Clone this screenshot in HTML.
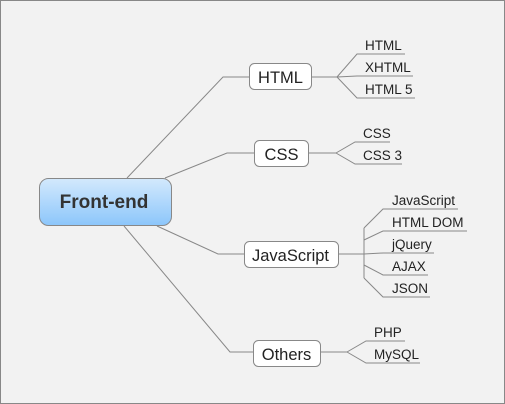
<!DOCTYPE html>
<html><head><style>
body{margin:0;width:505px;height:404px;overflow:hidden;background:#f2f2f2}
svg{display:block}
text{font-family:"Liberation Sans",sans-serif;fill:#222}
</style></head><body>
<svg width="505" height="404" viewBox="0 0 505 404">
<defs><linearGradient id="g" x1="0" y1="0" x2="0" y2="1"><stop offset="0" stop-color="#d3e9fc"/><stop offset="1" stop-color="#8cc6fb"/></linearGradient></defs>
<rect x="0.5" y="0.5" width="504" height="403" fill="#f2f2f2" stroke="#888"/>
<g fill="none" stroke="#888" stroke-width="1">
<polyline points="127,178 223,77 249,77"/>
<polyline points="165,178 227,153 254,153"/>
<polyline points="157,226 218,254 244,254"/>
<polyline points="124,226 230,352 253,352"/>
<line x1="312" y1="77" x2="337" y2="77"/>
<polyline points="337,77 357,54 405,54"/>
<polyline points="337,77 357,76 413,76"/>
<polyline points="337,77 357,98 415,98"/>
<line x1="308" y1="153" x2="336" y2="153"/>
<polyline points="336,153 355,142 390,142"/>
<polyline points="336,153 355,164 402,164"/>
<line x1="338" y1="254" x2="364" y2="254"/>
<line x1="364" y1="228" x2="364" y2="278"/>
<polyline points="364,228 383,209 458,209"/>
<polyline points="364,240 383,231 467,231"/>
<polyline points="364,254 383,253 434,253"/>
<polyline points="364,265 383,275 428,275"/>
<polyline points="364,278 383,297 430,297"/>
<line x1="320" y1="352" x2="347" y2="352"/>
<polyline points="347,352 366,341 405,341"/>
<polyline points="347,352 366,363 420,363"/>
</g>
<rect x="39.5" y="178.5" width="132" height="47" rx="9" fill="url(#g)" stroke="#888"/>
<text x="104" y="208" font-size="19" font-weight="bold" text-anchor="middle" style="fill:#333">Front-end</text>
<g fill="#fff" stroke="#888">
<rect x="249.5" y="63.5" width="62" height="26" rx="5"/>
<rect x="254.5" y="140.5" width="54" height="26" rx="5"/>
<rect x="244.5" y="241.5" width="94" height="26" rx="5"/>
<rect x="253.5" y="340.5" width="67" height="26" rx="5"/>
</g>
<g font-size="16.5" text-anchor="middle">
<text x="280.5" y="83">HTML</text>
<text x="281.5" y="160">CSS</text>
<text x="290.5" y="261">JavaScript</text>
<text x="286.5" y="360">Others</text>
</g>
<g font-size="13.5">
<text x="365" y="50">HTML</text>
<text x="365" y="72">XHTML</text>
<text x="365" y="94">HTML 5</text>
<text x="363" y="138">CSS</text>
<text x="363" y="160">CSS 3</text>
<text x="392" y="205">JavaScript</text>
<text x="392" y="227">HTML DOM</text>
<text x="392" y="249">jQuery</text>
<text x="392" y="271">AJAX</text>
<text x="392" y="293">JSON</text>
<text x="374" y="337">PHP</text>
<text x="374" y="359">MySQL</text>
</g>
</svg>
</body></html>
